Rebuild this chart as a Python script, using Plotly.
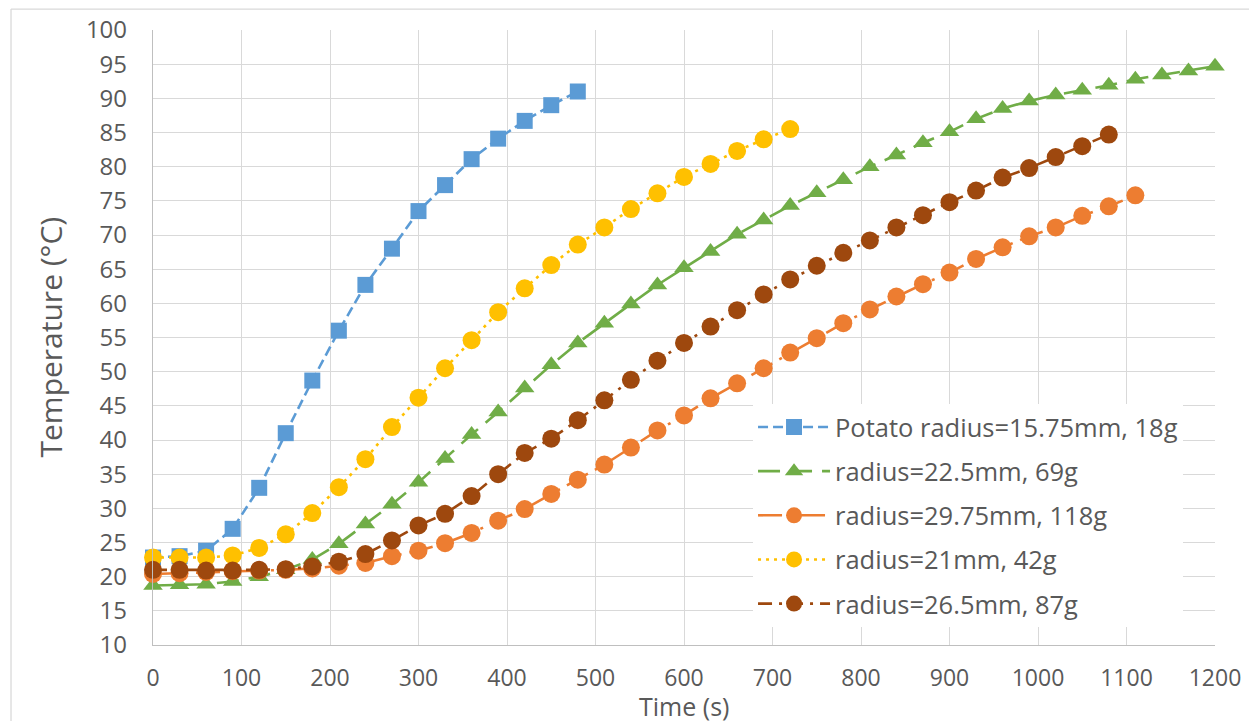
import plotly.graph_objects as go

t_potato = list(range(0, 481, 30))
temp_potato = [22.8, 23.0, 23.8, 27.0, 33.0, 41.0, 48.7, 56.0, 62.7, 68.0, 73.5, 77.3, 81.1, 84.1, 86.7, 89.0, 91.0]

t_225 = list(range(0, 1201, 30))
temp_225 = [18.7, 18.8, 18.9, 19.3, 20.0, 21.0, 22.5, 24.8, 27.7, 30.6, 33.8, 37.3, 40.8, 44.1, 47.6, 51.0,
            54.2, 57.1, 59.9, 62.7, 65.2, 67.6, 70.1, 72.2, 74.3, 76.2, 78.1, 80.0, 81.7, 83.5, 85.1, 87.0,
            88.5, 89.6, 90.5, 91.2, 91.9, 92.8, 93.4, 94.0, 94.7]

t_2975 = list(range(0, 1111, 30))
temp_2975 = [20.4, 20.5, 20.7, 20.8, 20.9, 21.0, 21.2, 21.6, 22.0, 23.0, 23.8, 24.9, 26.4, 28.2, 29.9, 32.1,
             34.2, 36.4, 38.9, 41.4, 43.6, 46.1, 48.3, 50.5, 52.8, 54.9, 57.1, 59.1, 61.0, 62.8, 64.5, 66.5,
             68.2, 69.8, 71.1, 72.8, 74.2, 75.8]

t_21 = list(range(0, 721, 30))
temp_21 = [22.8, 22.8, 22.8, 23.1, 24.2, 26.2, 29.3, 33.1, 37.2, 41.9, 46.2, 50.5, 54.6, 58.7, 62.2, 65.6,
           68.6, 71.1, 73.8, 76.1, 78.5, 80.4, 82.3, 84.0, 85.5]

t_265 = list(range(0, 1081, 30))
temp_265 = [21.0, 21.0, 20.9, 20.9, 21.0, 21.1, 21.5, 22.2, 23.3, 25.3, 27.5, 29.2, 31.8, 35.0, 38.1, 40.2,
            42.9, 45.8, 48.8, 51.6, 54.2, 56.6, 59.0, 61.3, 63.5, 65.5, 67.4, 69.2, 71.1, 72.9, 74.8, 76.5,
            78.4, 79.8, 81.4, 83.0, 84.7]

x_ticks = list(range(0, 1201, 100))
y_ticks = list(range(10, 101, 5))
x_title = "Time (s)"
y_title = "Temperature (°C)"

series = [
    ("Potato radius=15.75mm, 18g", t_potato, temp_potato, "#5B9BD5", "10px,5px", "square", 16),
    ("radius=22.5mm, 69g", t_225, temp_225, "#70AD47", "22px,10px", "triangle-up", 17),
    ("radius=29.75mm, 118g", t_2975, temp_2975, "#ED7D31", "24px,8px,3px,8px", "circle", 18),
    ("radius=21mm, 42g", t_21, temp_21, "#FFC000", "3px,5px", "circle", 18),
    ("radius=26.5mm, 87g", t_265, temp_265, "#9E480E", "14px,7px,3px,7px", "circle", 18),
]

fig = go.Figure()
for i, (name, x, y, color, dash, symbol, size) in enumerate(series):
    fig.add_trace(go.Scatter(
        x=x, y=y, name=name, mode="lines+markers", legendgroup=f"g{i}",
        line=dict(color=color, width=2.6, dash=dash),
        marker=dict(color=color, symbol=symbol, size=size),
        cliponaxis=False,
    ))

font_family = "Open Sans, Liberation Sans, sans-serif"
grey = "#595959"
fig.update_layout(
    width=1257, height=721,
    margin=dict(l=145, r=50, t=22, b=84, autoexpand=False),
    paper_bgcolor="white", plot_bgcolor="white",
    font=dict(family=font_family, color=grey),
    showlegend=True,
    legend=dict(
        x=0.565, y=0.392, xanchor="left", yanchor="top",
        bgcolor="white", font=dict(size=25.5, color=grey),
        itemwidth=72, tracegroupgap=8,
    ),
    xaxis=dict(
        range=[0, 1200], tickmode="array", tickvals=x_ticks,
        showgrid=True, gridcolor="#D9D9D9", gridwidth=1.3,
        showline=True, linecolor="#BFBFBF", linewidth=1.3,
        zeroline=False, ticks="", ticklabelstandoff=12, automargin=False,
        tickfont=dict(size=23, color=grey),
    ),
    yaxis=dict(
        range=[10, 100], tickmode="array", tickvals=y_ticks,
        showgrid=True, gridcolor="#D9D9D9", gridwidth=1.3,
        showline=True, linecolor="#BFBFBF", linewidth=1.3,
        zeroline=False, ticks="", ticklabelstandoff=20, automargin=False,
        tickfont=dict(size=24, color=grey),
    ),
    annotations=[
        dict(text=x_title, xref="paper", yref="paper", x=0.5, y=0, xanchor="center", yanchor="middle",
             yshift=-61, showarrow=False, font=dict(size=25, color=grey)),
        dict(text=y_title, xref="paper", yref="paper", x=0, y=0.5, xanchor="center", yanchor="middle",
             xshift=-103, textangle=-90, showarrow=False, font=dict(size=30, color=grey)),
    ],
    shapes=[
        dict(type="line", xref="paper", yref="paper", x0=-0.1337, x1=1.1, y0=1.0341, y1=1.0341,
             line=dict(color="#D9D9D9", width=1.3)),
        dict(type="line", xref="paper", yref="paper", x0=-0.1337, x1=-0.1337, y0=1.0341, y1=-0.2,
             line=dict(color="#D9D9D9", width=1.3)),
    ],
)

fig.write_html("out.html")
